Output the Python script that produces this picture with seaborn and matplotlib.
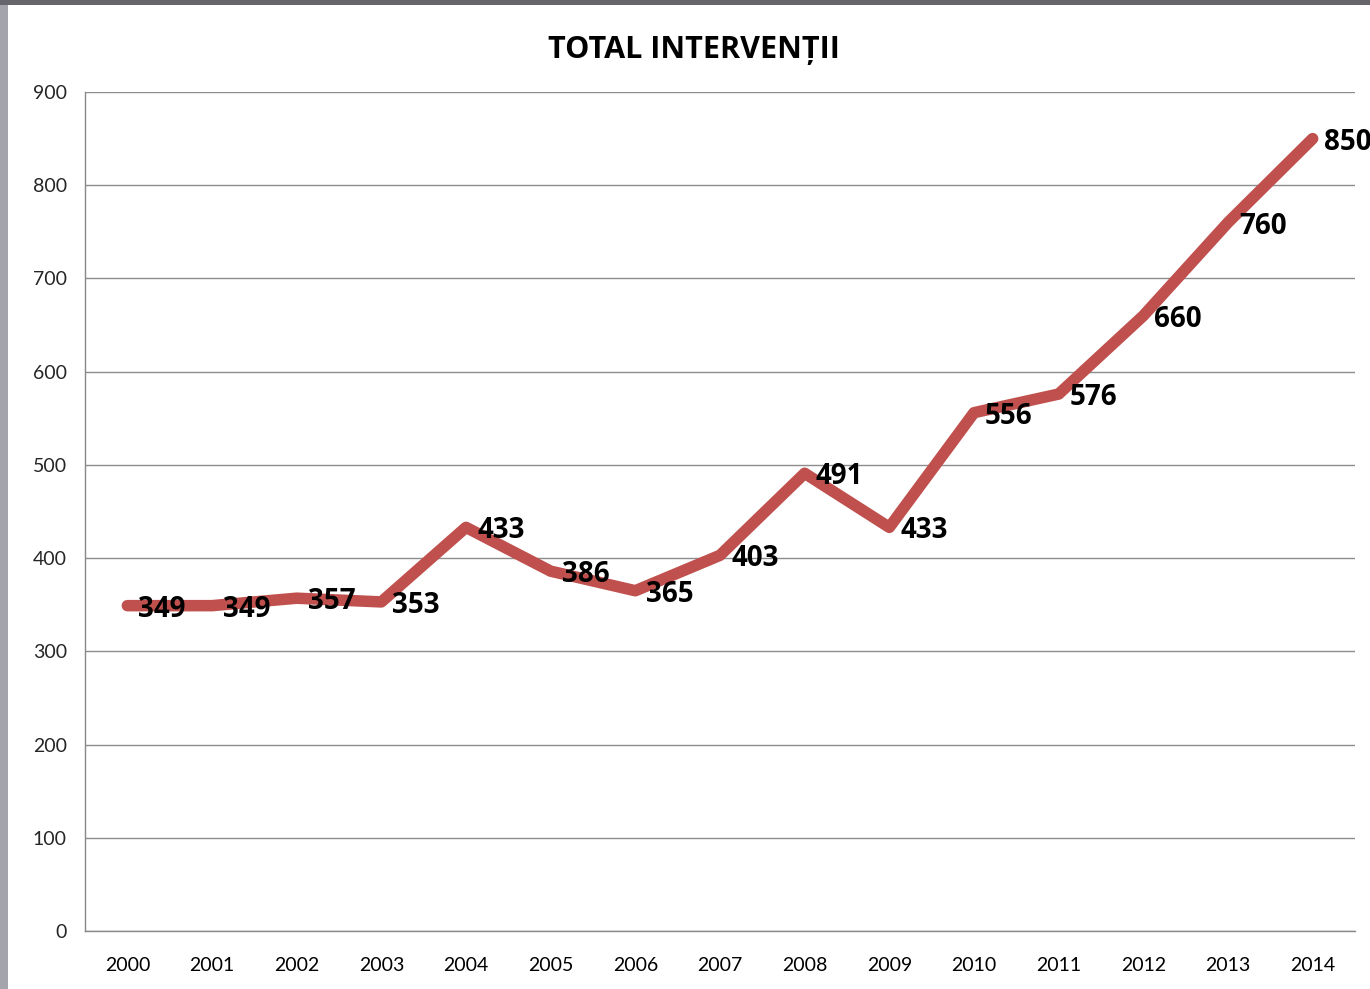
import matplotlib
matplotlib.use("Agg")
import matplotlib.pyplot as plt
import seaborn as sns
import numpy as np
import pandas as pd
from matplotlib.patches import Rectangle

years = ["2000", "2001", "2002", "2003", "2004", "2005", "2006", "2007",
         "2008", "2009", "2010", "2011", "2012", "2013", "2014"]
values = [349, 349, 357, 353, 433, 386, 365, 403, 491, 433, 556, 576, 660, 760, 850]
title = "TOTAL INTERVENȚII"
y_ticks = [0, 100, 200, 300, 400, 500, 600, 700, 800, 900]

sns.set_theme(style="white")
plt.rcParams['font.family'] = ['Lato', 'DejaVu Sans']

df = pd.DataFrame({"pos": np.arange(len(years)), "val": values})

fig = plt.figure(figsize=(13.7, 9.89), dpi=100)
fig.patch.set_facecolor("white")
ax = fig.add_axes([85/1370, 58/989, 1270/1370, 839/989])

sns.lineplot(data=df, x="pos", y="val", ax=ax, color="#C0504D",
             linewidth=8.3, solid_capstyle="round", solid_joinstyle="round")

ax.set_xlim(-0.5, len(years) - 0.5)
ax.set_ylim(0, 900)
ax.set_yticks(y_ticks)
ax.set_yticklabels([str(t) for t in y_ticks], fontsize=14)
ax.set_xticks(np.arange(len(years)))
ax.set_xticklabels(years, fontsize=14)
ax.set_xticks(np.arange(len(years) + 1) - 0.5, minor=True)
ax.tick_params(axis="x", which="major", length=0, pad=19, colors="black")
ax.tick_params(axis="x", which="minor", length=7, width=1, color="#888888", direction="out")
ax.tick_params(axis="y", which="major", length=7, width=1, color="#888888", direction="out", pad=6)
ax.set_xlabel("")
ax.set_ylabel("")

ax.grid(axis="y", color="#8c8c8c", linewidth=1)
ax.set_axisbelow(True)
for s in ["top", "right"]:
    ax.spines[s].set_visible(False)
for s in ["left", "bottom"]:
    ax.spines[s].set_color("#888888")
    ax.spines[s].set_linewidth(1)

for x, v in zip(df["pos"], df["val"]):
    ax.annotate(str(v), (x, v), xytext=(8, 0), textcoords="offset points",
                ha="left", va="center_baseline", fontsize=20, fontweight="bold",
                color="black", family=["Open Sans", "DejaVu Sans"])

fig.text(694/1370, 1 - 50/989, title, ha="center", va="center",
         fontsize=22, fontweight="bold", color="black",
         family=["Open Sans", "DejaVu Sans"])

# window frame edges
fig.patches.append(Rectangle((0, 0), 8/1370, 1, transform=fig.transFigure,
                             facecolor="#a4a4ac", edgecolor="none", zorder=-1))
fig.patches.append(Rectangle((0, 1 - 5/989), 1, 5/989, transform=fig.transFigure,
                             facecolor="#66656b", edgecolor="none", zorder=-1))

fig.savefig("out.png", dpi=100)
